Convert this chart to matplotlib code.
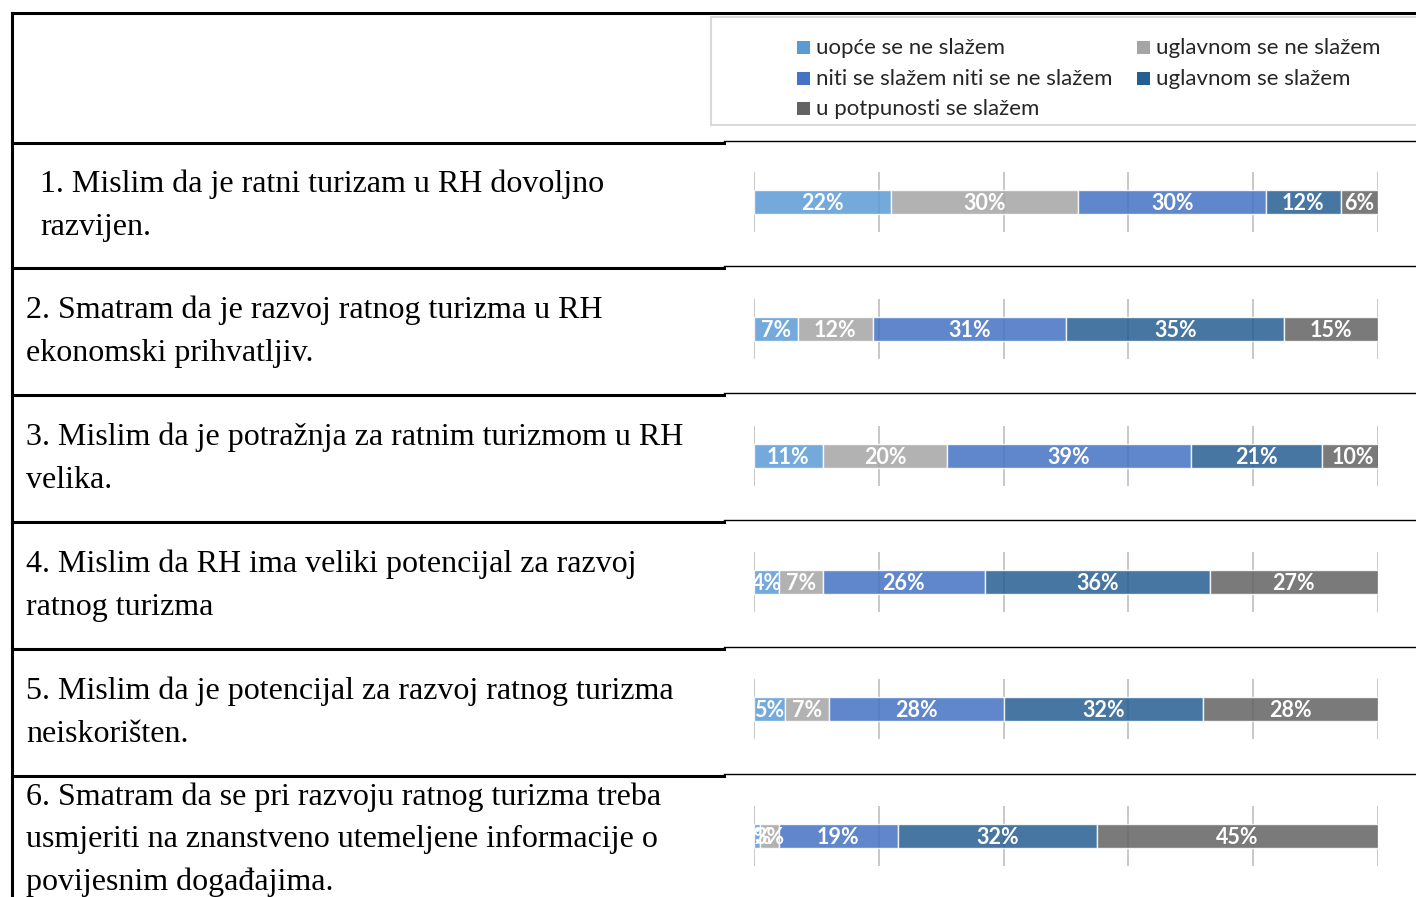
import matplotlib.pyplot as plt
from matplotlib.patches import Rectangle
from matplotlib.lines import Line2D

W, H = 1416, 897

# ------------------------------------------------------------
# data
categories = ['uopće se ne slažem', 'uglavnom se ne slažem',
              'niti se slažem niti se ne slažem', 'uglavnom se slažem',
              'u potpunosti se slažem']
colors = ['#5B9BD5', '#A5A5A5', '#4472C4', '#255E91', '#636363']

statements = [
    ['1. Mislim da je ratni turizam u RH dovoljno', 'razvijen.'],
    ['2. Smatram da je razvoj ratnog turizma u RH', 'ekonomski prihvatljiv.'],
    ['3. Mislim da je potražnja za ratnim turizmom u RH', 'velika.'],
    ['4. Mislim da RH ima veliki potencijal za razvoj', 'ratnog turizma'],
    ['5. Mislim da je potencijal za razvoj ratnog turizma', 'neiskorišten.'],
    ['6. Smatram da se pri razvoju ratnog turizma treba',
     'usmjeriti na znanstveno utemeljene informacije o',
     'povijesnim događajima.'],
]

q1 = [22, 30, 30, 12, 6]
q2 = [7, 12, 31, 35, 15]
q3 = [11, 20, 39, 21, 10]
q4 = [4, 7, 26, 36, 27]
q5 = [5, 7, 28, 32, 28]
q6 = [1, 3, 19, 32, 45]
answers = [q1, q2, q3, q4, q5, q6]

# ------------------------------------------------------------
fig = plt.figure(figsize=(W / 100, H / 100), dpi=100)

bg = fig.add_axes([0, 0, 1, 1])
bg.set_xlim(0, W)
bg.set_ylim(H, 0)
bg.axis('off')


def px_axes(x0, y0, x1, y1):
    return fig.add_axes([x0 / W, 1 - y1 / H, (x1 - x0) / W, (y1 - y0) / H])


# table lines
bg.add_line(Line2D([12, W], [13, 13], color='black', lw=2.2))
bg.add_line(Line2D([12, 12], [13, H], color='black', lw=2.2))
row_lines = [143, 268, 395, 522, 649, 776]
for yl in row_lines:
    bg.add_line(Line2D([12, 724], [yl, yl], color='black', lw=2.2))
    bg.add_line(Line2D([724, W], [yl - 1.5, yl - 1.5], color='black', lw=1.0))

# legend box
bg.add_patch(Rectangle((711, 17), W - 711 + 5, 108, facecolor='white',
                       edgecolor='#d9d9d9', lw=1.5))
leg_pos = [(797, 48), (1137, 48), (797, 79), (1137, 79), (797, 109)]
for (lx, ly), cat, col in zip(leg_pos, categories, colors):
    bg.add_patch(Rectangle((lx, ly - 7), 13, 13, facecolor=col, lw=0))
    bg.text(lx + 19, ly, cat, fontsize=16, family='Lato', color='#262626',
            va='center', ha='left')

# statements
text_x = [40, 26, 26, 26, 26, 26]
first_base = [192, 318, 445, 572, 699, 805]
for lines, tx, by in zip(statements, text_x, first_base):
    for k, ln in enumerate(lines):
        bg.text(tx, by + k * 42.5, ln, fontsize=23, family='Liberation Serif',
                color='black', va='baseline', ha='left')

# bars
bar_centers = [202, 329, 456, 582, 709, 836]
for vals, yc in zip(answers, bar_centers):
    ax = px_axes(754, yc - 30, 1378, yc + 30)
    ax.set_xlim(0, 100)
    ax.set_ylim(-0.5, 0.5)
    ax.axis('off')
    for gx in range(0, 101, 20):
        ax.axvline(gx, color='#bfbfbf', lw=1.2, zorder=0)
    left = 0
    for v, col in zip(vals, colors):
        ax.barh(0, v, left=left, height=0.4, color=col, alpha=0.85,
                edgecolor='white', lw=1, zorder=2)
        ax.text(left + v / 2, -0.03, f'{v}%', color='white', fontsize=15.5,
                family='Lato', fontweight='bold', ha='center', va='center',
                zorder=3)
        left += v

fig.savefig('out.png', dpi=100)
